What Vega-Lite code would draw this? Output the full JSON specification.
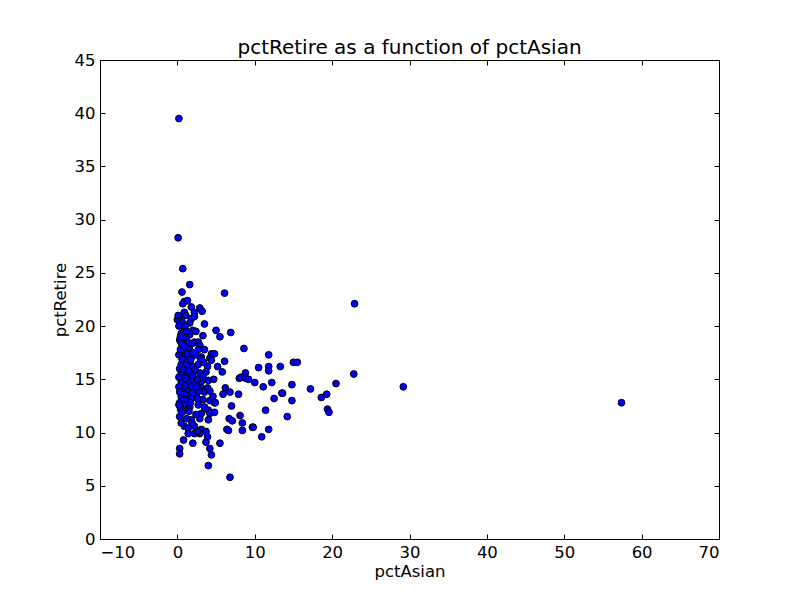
{
  "$schema": "https://vega.github.io/schema/vega-lite/v6.json",
  "description": "pctRetire as a function of pctAsian",
  "autosize": "none",
  "width": 619,
  "height": 479,
  "padding": {"left": 100, "top": 60, "right": 81, "bottom": 61},
  "title": {
    "text": "pctRetire as a function of pctAsian",
    "font": "DejaVu Sans",
    "fontSize": 20,
    "fontWeight": "normal",
    "color": "black",
    "offset": -6
  },
  "data": {
    "values": [
      {"pctAsian": 0.2, "pctRetire": 39.5}, {"pctAsian": 0.1, "pctRetire": 28.3}, {"pctAsian": 0.7, "pctRetire": 25.4},
      {"pctAsian": 1.6, "pctRetire": 23.9}, {"pctAsian": 0.6, "pctRetire": 23.2}, {"pctAsian": 6.1, "pctRetire": 23.1},
      {"pctAsian": 22.9, "pctRetire": 22.1}, {"pctAsian": 22.8, "pctRetire": 15.5}, {"pctAsian": 29.2, "pctRetire": 14.3},
      {"pctAsian": 57.4, "pctRetire": 12.8}, {"pctAsian": 0.3, "pctRetire": 8.5}, {"pctAsian": 0.3, "pctRetire": 8.0},
      {"pctAsian": 4.0, "pctRetire": 6.9}, {"pctAsian": 6.8, "pctRetire": 5.8},
      {"pctAsian": 0.9, "pctRetire": 22.3}, {"pctAsian": 1.3, "pctRetire": 22.4}, {"pctAsian": 0.7, "pctRetire": 22.1},
      {"pctAsian": 1.8, "pctRetire": 21.8}, {"pctAsian": 2.9, "pctRetire": 21.7}, {"pctAsian": 3.2, "pctRetire": 21.4},
      {"pctAsian": 0.9, "pctRetire": 21.3}, {"pctAsian": 2.2, "pctRetire": 21.3}, {"pctAsian": 0.3, "pctRetire": 20.9},
      {"pctAsian": 1.1, "pctRetire": 21.0}, {"pctAsian": 1.8, "pctRetire": 20.7}, {"pctAsian": 2.2, "pctRetire": 20.9},
      {"pctAsian": 0.6, "pctRetire": 20.4}, {"pctAsian": 1.6, "pctRetire": 20.3}, {"pctAsian": 3.5, "pctRetire": 20.2},
      {"pctAsian": 0.2, "pctRetire": 20.0}, {"pctAsian": 0.9, "pctRetire": 19.8}, {"pctAsian": 2.0, "pctRetire": 19.6},
      {"pctAsian": 5.0, "pctRetire": 19.6}, {"pctAsian": 0.5, "pctRetire": 19.3}, {"pctAsian": 1.6, "pctRetire": 19.2},
      {"pctAsian": 2.4, "pctRetire": 19.5}, {"pctAsian": 3.3, "pctRetire": 19.1}, {"pctAsian": 0.3, "pctRetire": 18.7},
      {"pctAsian": 1.2, "pctRetire": 18.7}, {"pctAsian": 2.2, "pctRetire": 18.5}, {"pctAsian": 2.7, "pctRetire": 18.5},
      {"pctAsian": 6.9, "pctRetire": 19.4}, {"pctAsian": 5.5, "pctRetire": 19.0}, {"pctAsian": 0.0, "pctRetire": 20.6},
      {"pctAsian": 0.1, "pctRetire": 21.0}, {"pctAsian": 0.4, "pctRetire": 19.0}, {"pctAsian": 1.0, "pctRetire": 20.0},
      {"pctAsian": 0.7, "pctRetire": 18.9},
      {"pctAsian": 0.5, "pctRetire": 18.4}, {"pctAsian": 1.4, "pctRetire": 18.4}, {"pctAsian": 2.0, "pctRetire": 18.4},
      {"pctAsian": 2.9, "pctRetire": 18.2}, {"pctAsian": 3.5, "pctRetire": 17.8}, {"pctAsian": 0.8, "pctRetire": 17.6},
      {"pctAsian": 1.6, "pctRetire": 17.8}, {"pctAsian": 2.7, "pctRetire": 17.8}, {"pctAsian": 1.0, "pctRetire": 17.1},
      {"pctAsian": 1.8, "pctRetire": 17.0}, {"pctAsian": 3.1, "pctRetire": 17.1}, {"pctAsian": 4.4, "pctRetire": 17.4},
      {"pctAsian": 4.2, "pctRetire": 17.0}, {"pctAsian": 4.4, "pctRetire": 16.8},
      {"pctAsian": 0.5, "pctRetire": 16.4}, {"pctAsian": 1.2, "pctRetire": 16.4}, {"pctAsian": 2.0, "pctRetire": 16.2},
      {"pctAsian": 2.7, "pctRetire": 16.4}, {"pctAsian": 3.9, "pctRetire": 16.2}, {"pctAsian": 3.7, "pctRetire": 15.7},
      {"pctAsian": 0.5, "pctRetire": 15.6}, {"pctAsian": 1.4, "pctRetire": 15.4}, {"pctAsian": 2.0, "pctRetire": 15.3},
      {"pctAsian": 2.9, "pctRetire": 15.6}, {"pctAsian": 0.5, "pctRetire": 14.8}, {"pctAsian": 1.4, "pctRetire": 14.8},
      {"pctAsian": 2.2, "pctRetire": 14.6}, {"pctAsian": 3.1, "pctRetire": 14.8}, {"pctAsian": 4.0, "pctRetire": 14.9},
      {"pctAsian": 0.5, "pctRetire": 14.0}, {"pctAsian": 1.4, "pctRetire": 14.0}, {"pctAsian": 2.2, "pctRetire": 14.0},
      {"pctAsian": 3.1, "pctRetire": 14.2}, {"pctAsian": 3.6, "pctRetire": 14.0}, {"pctAsian": 0.5, "pctRetire": 13.4},
      {"pctAsian": 1.4, "pctRetire": 13.2}, {"pctAsian": 2.4, "pctRetire": 13.4}, {"pctAsian": 3.3, "pctRetire": 13.1},
      {"pctAsian": 4.2, "pctRetire": 13.0}, {"pctAsian": 4.6, "pctRetire": 13.4}, {"pctAsian": 3.9, "pctRetire": 14.2},
      {"pctAsian": 3.5, "pctRetire": 13.8}, {"pctAsian": 4.2, "pctRetire": 13.9},
      {"pctAsian": 0.2, "pctRetire": 17.3}, {"pctAsian": 0.3, "pctRetire": 16.0}, {"pctAsian": 0.2, "pctRetire": 15.2},
      {"pctAsian": 0.8, "pctRetire": 15.9}, {"pctAsian": 1.7, "pctRetire": 16.8}, {"pctAsian": 2.4, "pctRetire": 17.3},
      {"pctAsian": 1.0, "pctRetire": 14.4}, {"pctAsian": 1.8, "pctRetire": 14.3}, {"pctAsian": 2.6, "pctRetire": 15.0},
      {"pctAsian": 0.2, "pctRetire": 14.3}, {"pctAsian": 0.3, "pctRetire": 13.8}, {"pctAsian": 0.9, "pctRetire": 13.6},
      {"pctAsian": 1.9, "pctRetire": 13.7}, {"pctAsian": 2.8, "pctRetire": 13.9}, {"pctAsian": 0.3, "pctRetire": 12.8},
      {"pctAsian": 1.1, "pctRetire": 15.1}, {"pctAsian": 3.4, "pctRetire": 16.6}, {"pctAsian": 2.3, "pctRetire": 15.9},
      {"pctAsian": 1.3, "pctRetire": 17.4}, {"pctAsian": 0.4, "pctRetire": 17.8}, {"pctAsian": 3.0, "pctRetire": 16.9},
      {"pctAsian": 0.9, "pctRetire": 13.1}, {"pctAsian": 1.8, "pctRetire": 13.2}, {"pctAsian": 2.6, "pctRetire": 13.2},
      {"pctAsian": 1.1, "pctRetire": 12.6}, {"pctAsian": 1.6, "pctRetire": 12.4}, {"pctAsian": 2.7, "pctRetire": 12.6},
      {"pctAsian": 3.5, "pctRetire": 12.4}, {"pctAsian": 4.0, "pctRetire": 12.1}, {"pctAsian": 4.8, "pctRetire": 12.8},
      {"pctAsian": 3.1, "pctRetire": 11.8}, {"pctAsian": 4.2, "pctRetire": 11.8}, {"pctAsian": 0.3, "pctRetire": 11.5},
      {"pctAsian": 1.2, "pctRetire": 11.3}, {"pctAsian": 1.8, "pctRetire": 11.2}, {"pctAsian": 2.9, "pctRetire": 11.3},
      {"pctAsian": 4.0, "pctRetire": 11.2}, {"pctAsian": 0.9, "pctRetire": 10.6}, {"pctAsian": 1.4, "pctRetire": 10.4},
      {"pctAsian": 2.2, "pctRetire": 10.6}, {"pctAsian": 3.1, "pctRetire": 10.3}, {"pctAsian": 3.7, "pctRetire": 10.1},
      {"pctAsian": 1.4, "pctRetire": 9.9}, {"pctAsian": 2.2, "pctRetire": 9.9}, {"pctAsian": 2.9, "pctRetire": 9.9},
      {"pctAsian": 3.9, "pctRetire": 9.6}, {"pctAsian": 0.8, "pctRetire": 9.3}, {"pctAsian": 2.0, "pctRetire": 9.0},
      {"pctAsian": 3.7, "pctRetire": 9.1}, {"pctAsian": 4.2, "pctRetire": 8.5}, {"pctAsian": 4.4, "pctRetire": 7.9},
      {"pctAsian": 0.4, "pctRetire": 12.2}, {"pctAsian": 0.5, "pctRetire": 10.9}, {"pctAsian": 2.4, "pctRetire": 11.7},
      {"pctAsian": 1.5, "pctRetire": 12.0}, {"pctAsian": 0.2, "pctRetire": 12.6},
      {"pctAsian": 0.6, "pctRetire": 16.9}, {"pctAsian": 1.5, "pctRetire": 15.8}, {"pctAsian": 0.9, "pctRetire": 18.1},
      {"pctAsian": 2.5, "pctRetire": 14.3}, {"pctAsian": 1.7, "pctRetire": 12.8}, {"pctAsian": 0.7, "pctRetire": 12.0},
      {"pctAsian": 2.6, "pctRetire": 10.1}, {"pctAsian": 1.9, "pctRetire": 10.9}, {"pctAsian": 0.6, "pctRetire": 11.9},
      {"pctAsian": 3.3, "pctRetire": 15.3}, {"pctAsian": 1.2, "pctRetire": 19.5}, {"pctAsian": 2.0, "pctRetire": 17.5},
      {"pctAsian": 4.8, "pctRetire": 17.4}, {"pctAsian": 6.1, "pctRetire": 16.7}, {"pctAsian": 15.0, "pctRetire": 16.6},
      {"pctAsian": 15.5, "pctRetire": 16.6}, {"pctAsian": 11.8, "pctRetire": 16.2}, {"pctAsian": 13.3, "pctRetire": 16.2},
      {"pctAsian": 10.5, "pctRetire": 16.1}, {"pctAsian": 11.8, "pctRetire": 15.8}, {"pctAsian": 5.8, "pctRetire": 15.7},
      {"pctAsian": 5.2, "pctRetire": 16.2}, {"pctAsian": 8.8, "pctRetire": 15.6}, {"pctAsian": 8.0, "pctRetire": 15.1},
      {"pctAsian": 8.2, "pctRetire": 15.2}, {"pctAsian": 8.8, "pctRetire": 15.1}, {"pctAsian": 9.2, "pctRetire": 15.0},
      {"pctAsian": 10.0, "pctRetire": 14.7}, {"pctAsian": 12.2, "pctRetire": 14.7}, {"pctAsian": 4.7, "pctRetire": 15.0},
      {"pctAsian": 11.1, "pctRetire": 14.3}, {"pctAsian": 14.8, "pctRetire": 14.5}, {"pctAsian": 17.2, "pctRetire": 14.1},
      {"pctAsian": 20.5, "pctRetire": 14.6}, {"pctAsian": 18.6, "pctRetire": 13.3}, {"pctAsian": 19.3, "pctRetire": 13.6},
      {"pctAsian": 13.6, "pctRetire": 13.7}, {"pctAsian": 13.5, "pctRetire": 13.7}, {"pctAsian": 6.2, "pctRetire": 14.2},
      {"pctAsian": 6.8, "pctRetire": 13.8}, {"pctAsian": 5.9, "pctRetire": 13.6}, {"pctAsian": 7.9, "pctRetire": 13.6},
      {"pctAsian": 12.5, "pctRetire": 13.2}, {"pctAsian": 14.8, "pctRetire": 13.0}, {"pctAsian": 4.9, "pctRetire": 12.8},
      {"pctAsian": 7.0, "pctRetire": 12.5}, {"pctAsian": 11.4, "pctRetire": 12.1}, {"pctAsian": 19.4, "pctRetire": 12.2},
      {"pctAsian": 19.6, "pctRetire": 11.9}, {"pctAsian": 14.2, "pctRetire": 11.5}, {"pctAsian": 4.8, "pctRetire": 11.9},
      {"pctAsian": 8.1, "pctRetire": 11.6}, {"pctAsian": 6.7, "pctRetire": 11.3}, {"pctAsian": 7.1, "pctRetire": 11.1},
      {"pctAsian": 8.4, "pctRetire": 10.9}, {"pctAsian": 6.4, "pctRetire": 10.3}, {"pctAsian": 6.6, "pctRetire": 10.2},
      {"pctAsian": 9.7, "pctRetire": 10.5}, {"pctAsian": 9.8, "pctRetire": 10.5}, {"pctAsian": 11.8, "pctRetire": 10.3},
      {"pctAsian": 8.4, "pctRetire": 10.2}, {"pctAsian": 10.9, "pctRetire": 9.6}, {"pctAsian": 5.5, "pctRetire": 9.0},
      {"pctAsian": 8.6, "pctRetire": 17.9}, {"pctAsian": 11.8, "pctRetire": 17.3}
    ]
  },
  "layer": [
    {
      "mark": {"type": "point", "shape": "circle", "filled": true, "fill": "#0000ff", "stroke": "black", "strokeWidth": 1, "opacity": 1, "size": 46},
      "encoding": {
        "x": {
          "field": "pctAsian", "type": "quantitative",
          "scale": {"domain": [-10, 70], "nice": false, "zero": false},
          "axis": {"values": [-10, 0, 10, 20, 30, 40, 50, 60, 70], "title": "pctAsian", "orient": "bottom"}
        },
        "y": {
          "field": "pctRetire", "type": "quantitative",
          "scale": {"domain": [0, 45], "nice": false, "zero": false},
          "axis": {"values": [0, 5, 10, 15, 20, 25, 30, 35, 40, 45], "title": "pctRetire", "orient": "left"}
        }
      }
    },
    {
      "mark": {"type": "point", "opacity": 0},
      "encoding": {
        "x": {
          "field": "pctAsian", "type": "quantitative",
          "scale": {"domain": [-10, 70], "nice": false, "zero": false},
          "axis": {"values": [-10, 0, 10, 20, 30, 40, 50, 60, 70], "title": null, "labels": false, "orient": "top"}
        },
        "y": {
          "field": "pctRetire", "type": "quantitative",
          "scale": {"domain": [0, 45], "nice": false, "zero": false},
          "axis": {"values": [0, 5, 10, 15, 20, 25, 30, 35, 40, 45], "title": null, "labels": false, "orient": "right"}
        }
      }
    }
  ],
  "resolve": {"scale": {"x": "independent", "y": "independent"}, "axis": {"x": "independent", "y": "independent"}},
  "config": {
    "font": "DejaVu Sans",
    "view": {"stroke": "black", "strokeWidth": 1},
    "axis": {
      "grid": false,
      "domain": false,
      "tickSize": -5,
      "tickColor": "black",
      "tickWidth": 1,
      "labelFont": "DejaVu Sans",
      "labelFontSize": 16.5,
      "labelColor": "black",
      "labelPadding": 10,
      "titleFont": "DejaVu Sans",
      "titleFontSize": 16.5,
      "titleFontWeight": "normal",
      "titleColor": "black"
    },
    "axisX": {"titlePadding": 3},
    "axisY": {"titlePadding": 6}
  }
}
